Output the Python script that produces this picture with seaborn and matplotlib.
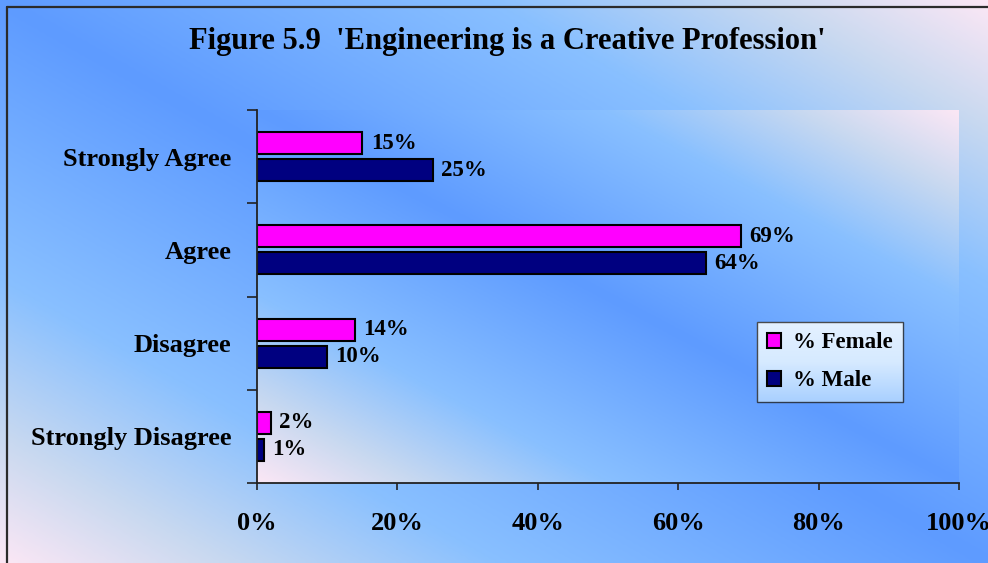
import numpy as np
import pandas as pd
import matplotlib
matplotlib.use("Agg")
import matplotlib.pyplot as plt
from matplotlib.colors import LinearSegmentedColormap
from matplotlib.lines import Line2D
from matplotlib.ticker import PercentFormatter, FixedLocator
import seaborn as sns

# ---- data -------------------------------------------------------------
responses = ["Strongly Agree", "Agree", "Disagree", "Strongly Disagree"]
series = ["% Female", "% Male"]
female_pct = [15, 69, 14, 2]
male_pct = [25, 64, 10, 1]
bar_colors = ["#FF00FF", "#000080"]
x_ticks = [0, 20, 40, 60, 80, 100]
title = "Figure 5.9  'Engineering is a Creative Profession'"

df = pd.DataFrame({
    "Response": responses * 2,
    "Percent": female_pct + male_pct,
    "Gender": [series[0]] * len(responses) + [series[1]] * len(responses),
})

sns.set_style("white")
plt.rcParams["font.family"] = ["Liberation Serif", "DejaVu Serif"]
plt.rcParams["font.weight"] = "bold"
for key in ("text.color", "axes.labelcolor", "xtick.labelcolor", "ytick.labelcolor"):
    plt.rcParams[key] = "black"

W, H, DPI = 988, 563, 100
fig = plt.figure(figsize=(W / DPI, H / DPI), dpi=DPI)

# diagonal pink -> light blue -> blue -> light blue -> pink wash
wash = LinearSegmentedColormap.from_list(
    "wash",
    [(0.0, "#5e9bff"), (0.5, "#89c0ff"), (0.78, "#c9d9f0"), (1.0, "#fbe7f5")],
)


def diagonal(h, w):
    yy, xx = np.mgrid[0:h, 0:w]
    t = (xx / (w - 1) - yy / (h - 1) + 1) / 2
    return np.abs(t - 0.5) * 2


bg = fig.add_axes([0, 0, 1, 1], zorder=-3)
bg.imshow(diagonal(200, 350), cmap=wash, vmin=0, vmax=1, aspect="auto",
          interpolation="bilinear")
bg.set_axis_off()

ax_rect = [257 / W, 1 - 483 / H, (959 - 257) / W, (483 - 110) / H]
plot_bg = fig.add_axes(ax_rect, zorder=-2)
plot_bg.imshow(diagonal(200, 350), cmap=wash, vmin=0, vmax=1, aspect="auto",
               interpolation="bilinear")
plot_bg.set_axis_off()

ax = fig.add_axes(ax_rect, zorder=0)
ax.patch.set_alpha(0)

sns.barplot(data=df, y="Response", x="Percent", hue="Gender", orient="h",
            order=responses, hue_order=series, palette=bar_colors,
            width=0.58, gap=0.18, edgecolor="black", linewidth=1.5,
            saturation=1, ax=ax, legend=True)

for cont in ax.containers:
    ax.bar_label(cont, labels=[f"{v:.0f}%" for v in cont.datavalues],
                 padding=6, fontsize=16.5, fontweight="bold", color="black")

ax.set_xlim(0, 100)
ax.set_ylim(len(responses) - 0.5, -0.5)
ax.set_xlabel("")
ax.set_ylabel("")
ax.xaxis.set_major_locator(FixedLocator(x_ticks))
ax.xaxis.set_major_formatter(PercentFormatter(xmax=100, decimals=0))
ax.yaxis.set_minor_locator(FixedLocator(np.arange(-0.5, len(responses), 1.0)))
ax.tick_params(axis="x", which="major", direction="out", length=5, width=1.2,
               color="#222222", labelcolor="black", labelsize=19, pad=16,
               bottom=True)
ax.tick_params(axis="y", which="major", length=0, labelsize=19, pad=18.5,
               labelcolor="black")
ax.tick_params(axis="y", which="minor", direction="out", length=7, width=1.2,
               color="#222222", left=True)
for lab in ax.get_xticklabels() + ax.get_yticklabels():
    lab.set_fontweight("bold")
for side in ("top", "right"):
    ax.spines[side].set_visible(False)
for side in ("left", "bottom"):
    ax.spines[side].set_color("#222222")
    ax.spines[side].set_linewidth(1.3)

handles, labels = ax.get_legend_handles_labels()
ax.get_legend().remove()
leg = fig.legend(handles, labels, loc="upper left",
                 bbox_to_anchor=(757 / W, 1 - 322 / H), borderaxespad=0,
                 handlelength=0.6, handleheight=0.6,
                 handletextpad=0.5, labelspacing=0.75, borderpad=0.45,
                 fancybox=False, frameon=True,
                 prop={"weight": "bold", "size": 16.5})
leg.get_frame().set_edgecolor("#222222")
leg.get_frame().set_linewidth(1.0)
leg.get_frame().set_facecolor("none")
for h in leg.legend_handles:
    h.set_edgecolor("black")
    h.set_linewidth(1.5)
for t in leg.get_texts():
    t.set_color("black")

fig.text(507 / W, 1 - 42 / H, title, ha="center", va="center",
         fontsize=22, fontweight="bold", color="black")

# figure frame on top and left edges
fig.add_artist(Line2D([6.5 / W, 6.5 / W], [0, 1 - 6.5 / H], color="#2b2b2b",
                      lw=1.6, transform=fig.transFigure))
fig.add_artist(Line2D([6.5 / W, 1], [1 - 6.5 / H, 1 - 6.5 / H], color="#2b2b2b",
                      lw=1.6, transform=fig.transFigure))

# pale vertical wash behind the legend
fig.canvas.draw()
bb = leg.get_window_extent().transformed(fig.transFigure.inverted())
leg_bg = fig.add_axes([bb.x0, bb.y0, bb.width, bb.height], zorder=4)
grad = np.linspace(0, 1, 100)[:, None]
leg_bg.imshow(grad, cmap=LinearSegmentedColormap.from_list(
    "legwash", ["#e4f1ff", "#d6eaff", "#a9d0ff"]), aspect="auto",
    interpolation="bilinear")
leg_bg.set_axis_off()
leg.set_zorder(5)

fig.savefig("out.png", dpi=DPI)
